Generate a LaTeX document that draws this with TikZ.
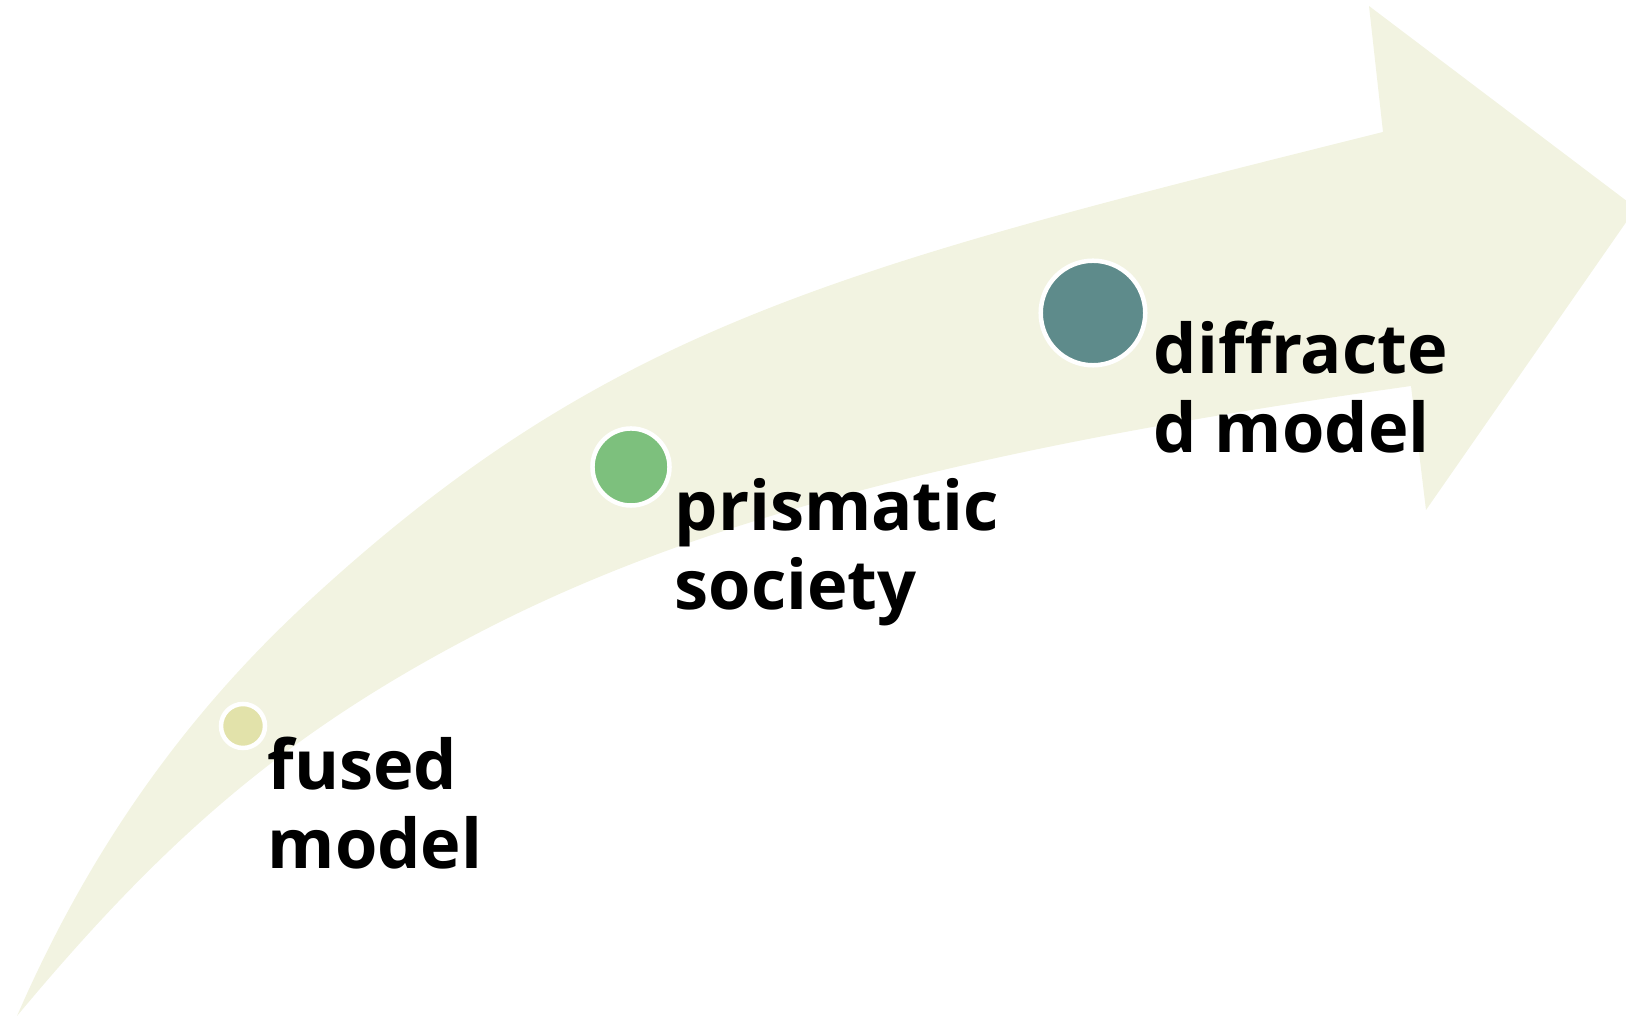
\documentclass[tikz,border=0pt]{standalone}
\usepackage{fontspec}
\setmainfont{Open Sans}

\definecolor{bandgreen}{HTML}{F2F3E1}
\definecolor{fusedcol}{HTML}{E2E2AA}
\definecolor{prismcol}{HTML}{7DC07D}
\definecolor{diffrcol}{HTML}{5E8B8B}

\begin{document}
\begin{tikzpicture}[
    x=0.01cm, y=-0.01cm,
    dot/.style={circle, draw=white, line width=0.045cm, inner sep=0pt},
    lbl/.style={
        anchor=base west,   % baseline of the last line
        align=left,
        inner sep=0pt,
        font=\fontsize{19.5}{22.5}\selectfont\bfseries
    }
]
    \useasboundingbox (0,0) rectangle (1626,1016);
    \clip (0,0) rectangle (1626,1016);

    % the bent arrow behind everything
    \fill[bandgreen]
        (17,1016) .. controls (97,832) and (200,701) .. (310,600)
        .. controls (610,324) and (843,267) .. (1383,132)
        -- (1369,6) -- (1636,208) -- (1426,510) -- (1411,386)
        .. controls (991,445) and (710,515) .. (490,627)
        .. controls (290,729) and (167,836) .. (17,1016)
        -- cycle;

    % stages
    \node[dot, fill=fusedcol, minimum size=0.44cm] (fused) at (243,726) {};
    \node[dot, fill=prismcol, minimum size=0.77cm] (prism) at (631,467) {};
    \node[dot, fill=diffrcol, minimum size=1.045cm] (diffr) at (1093,313) {};

    \node[lbl] (fusedlbl) at (267,869) {fused\\model};
    \node[lbl] (prismlbl) at (674,610) {prismatic\\society};
    \node[lbl] (diffrlbl) at (1153,453) {diffracte\\d model};
\end{tikzpicture}
\end{document}
